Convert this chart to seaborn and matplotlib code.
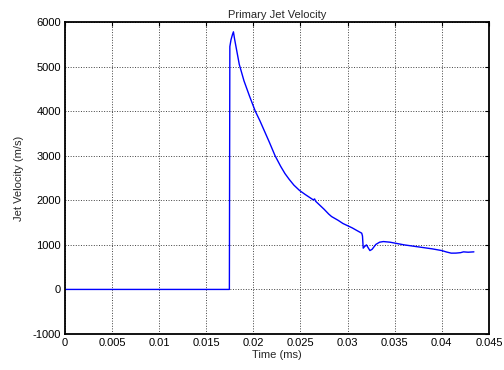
import numpy as np
import pandas as pd
import matplotlib
matplotlib.use('Agg')
import matplotlib.pyplot as plt
import seaborn as sns

# time (ms) and jet velocity (m/s)
time_ms = [0, 0.01745, 0.01750, 0.01762, 0.01778, 0.01788, 0.01800, 0.0185,
           0.0190, 0.0196, 0.0202, 0.0207, 0.0212, 0.0217, 0.0223, 0.0229,
           0.02335, 0.0238, 0.0243, 0.0249, 0.0255, 0.0260, 0.02635, 0.0265, 0.0266,
           0.0270, 0.0275, 0.0280, 0.0283, 0.0290, 0.0295, 0.0300, 0.0305, 0.0310,
           0.0315, 0.03158, 0.03166, 0.0318, 0.0320, 0.0322, 0.03237, 0.0326, 0.0330,
           0.0334, 0.0338, 0.0345, 0.0350, 0.0360, 0.0370, 0.0380, 0.0390, 0.0400,
           0.0405, 0.0410, 0.0415, 0.0420, 0.0423, 0.0428, 0.04341]
velocity = [0, 0, 5450, 5600, 5720, 5780, 5620, 5050,
            4680, 4330, 4000, 3780, 3540, 3300, 3000, 2760,
            2600, 2470, 2340, 2220, 2130, 2060, 2010, 2030, 1980,
            1900, 1800, 1690, 1635, 1550, 1480, 1430, 1380, 1320,
            1262, 1200, 926, 960, 1000, 930, 872, 900, 1010,
            1060, 1074, 1060, 1040, 1000, 970, 940, 910, 872,
            840, 814, 815, 825, 843, 835, 843]

df = pd.DataFrame({'t': time_ms, 'v': velocity})

sns.set_style('white')
plt.rcParams['font.family'] = ['Liberation Sans', 'DejaVu Sans']
plt.rcParams['axes.unicode_minus'] = False

fig = plt.figure(figsize=(5.04, 3.70), dpi=100)
ax = fig.add_axes([0.129, 0.0973, 0.841, 0.8432])

sns.lineplot(data=df, x='t', y='v', color='#0000ff', lw=1, ax=ax)

ax.set_xlim(0, 0.045)
ax.set_ylim(-1000, 6000)
ax.set_xticks(np.arange(0, 0.0451, 0.005))
ax.set_xticklabels(['0', '0.005', '0.01', '0.015', '0.02', '0.025', '0.03', '0.035', '0.04', '0.045'])
ax.set_yticks(np.arange(-1000, 6001, 1000))
ax.tick_params(direction='in', length=3, width=0.8, top=True, right=True,
               labelsize=8, colors='black', pad=3)
ax.grid(True, linestyle=':', color='0.25', lw=0.7)
for s in ax.spines.values():
    s.set_color('black')
    s.set_linewidth(1.3)

ax.set_title('Primary Jet Velocity', fontsize=8, pad=3)
ax.set_xlabel('Time (ms)', fontsize=8, labelpad=1)
ax.set_ylabel('Jet Velocity (m/s)', fontsize=8, labelpad=6)

fig.savefig('out.png', dpi=100)
